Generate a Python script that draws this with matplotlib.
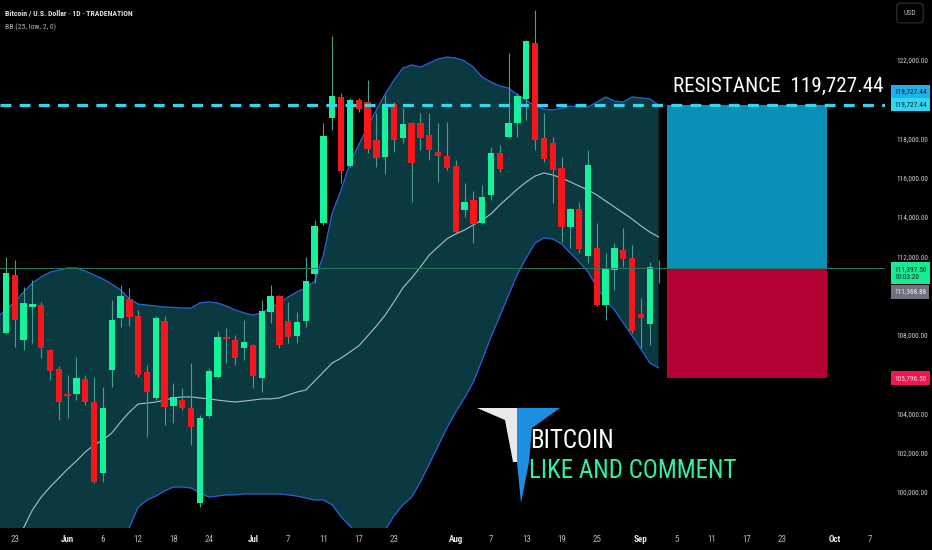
import numpy as np
import pandas as pd
import matplotlib
matplotlib.use("Agg")
import matplotlib.pyplot as plt
from matplotlib.patches import Rectangle, Polygon
from matplotlib.transforms import blended_transform_factory

NARROW = ["Roboto Condensed", "Liberation Sans Narrow", "Roboto", "DejaVu Sans"]

# daily candles (weekdays), first bar 2025-05-22
opens = [108100, 111060, 107750, 109430, 109530, 107240, 106270, 105000, 105000, 105760,
         104590, 100980, 106220, 108870, 109840, 108970, 106120, 104800, 108720, 104390,
         104690, 104290, 99450, 103880, 105870, 107900, 107750, 107340, 107490, 105810,
         109170, 109990, 108720, 107950, 108720, 111110, 113700, 119050, 120120, 116600,
         119960, 119860, 117930, 117060, 119760, 118030, 118790, 118790, 118180, 117320,
         117110, 116600, 114370, 114870, 113700, 115130, 117270, 118080, 118790, 120020,
         122870, 118030, 117780, 116500, 113500, 114420, 112020, 112430, 109530, 111310,
         112330, 111920, 109070, 108560, 111370]
highs = [111970, 111820, 110450, 110800, 109680, 107300, 106420, 105970, 106880, 105970,
         105870, 105360, 109780, 110550, 110400, 109270, 106480, 108970, 108970, 105560,
         105300, 106580, 103930, 106320, 108210, 108360, 108000, 108770, 107550, 109780,
         110550, 110040, 109680, 109170, 111970, 113860, 118790, 123220, 120320, 120070,
         120070, 120980, 119300, 120220, 119860, 119560, 118840, 119300, 119300, 118790,
         118840, 116910, 115740, 115330, 115640, 117570, 117670, 122360, 120320, 123020,
         124550, 119300, 118080, 117060, 114470, 114770, 117420, 113700, 112180, 112690,
         113450, 112580, 109890, 111720, 111820]
lows = [108050, 107390, 107240, 107600, 106830, 105710, 103680, 103780, 104690, 104440,
        100470, 100520, 105360, 108410, 108460, 105870, 102810, 104690, 103420, 103520,
        104180, 102400, 99250, 103780, 105810, 106580, 106480, 106730, 105300, 105100,
        108610, 107340, 107600, 107600, 108410, 110650, 113600, 118440, 115740, 116550,
        119350, 117270, 116550, 116200, 117320, 117780, 114770, 117420, 116910, 115790,
        116400, 113200, 114010, 112690, 113650, 114870, 116300, 118030, 118080, 118950,
        117420, 116810, 114720, 112740, 112430, 112180, 111670, 109480, 108770, 110290,
        111460, 108100, 107340, 107490, 110650]
closes = [111150, 108770, 109630, 109580, 107340, 106170, 104590, 104900, 105810, 104590,
          100520, 104290, 108770, 109990, 108920, 105970, 105100, 108870, 104340, 104850,
          104290, 103320, 103780, 106170, 107900, 107800, 106830, 107650, 105920, 109220,
          109990, 107490, 107900, 108660, 110750, 113550, 118130, 120170, 116350, 119960,
          119510, 117470, 117010, 119760, 117930, 118740, 116760, 118030, 117420, 117110,
          116500, 113250, 114770, 113650, 115030, 117270, 116450, 118790, 120170, 122970,
          117930, 116960, 116400, 113500, 114420, 112380, 116660, 109530, 111410, 112430,
          111870, 108210, 108870, 111460, 111400]

# Bollinger Bands (25, low, 2); first value is the bar before the first candle
bb_upper = [108900, 109270, 109680, 110180, 110640, 110950, 111200, 111300, 111410, 111410, 111250,
            111050, 110850, 110590, 110290, 109830, 109570, 109520, 109470, 109420, 109400,
            109370, 109370, 109630, 109680, 109630, 109470, 109270, 109120, 109010, 109120,
            109370, 109630, 109930, 110190, 110390, 110740, 112070, 114210, 115380, 116750,
            117670, 118590, 119450, 120270, 120980, 121590, 121750, 121640, 121850, 122050,
            122150, 122100, 121950, 121640, 121130, 120880, 120680, 120570, 120220, 119960,
            119660, 119500, 119450, 119550, 119660, 119610, 119610, 119860, 120120, 119910,
            119860, 120120, 120070, 120020, 119710]
bb_basis = [95300, 96280, 97250, 98170, 99080, 99740, 100250, 100710, 101170, 101580, 102040,
            102390, 102650, 103000, 103560, 104070, 104480, 104530, 104580, 104680, 104790,
            104840, 104840, 104790, 104740, 104680, 104630, 104580, 104630, 104680, 104740,
            104740, 104790, 104940, 105090, 105190, 105650, 106110, 106570, 106820, 107130,
            107440, 107940, 108450, 109010, 109680, 110390, 110900, 111460, 112070, 112480,
            112890, 113140, 113340, 113600, 113850, 114160, 114620, 115020, 115430, 115790,
            116090, 116250, 116140, 115990, 115790, 115580, 115380, 115125, 114820, 114510,
            114210, 113900, 113550, 113240, 112990]
bb_lower = [82000, 83300, 84800, 86200, 87500, 88500, 89300, 90100, 90900, 91750, 92800,
            93700, 94450, 95400, 96800, 98200, 99230, 99590, 99790, 100050, 100250,
            100250, 100200, 99950, 99740, 99790, 99850, 99850, 99900, 99900, 99900,
            99900, 99900, 99850, 99790, 99690, 99590, 99590, 99340, 98730, 98270,
            97810, 97660, 97760, 98060, 98780, 99340, 99740, 100510, 101420, 102340,
            103260, 104070, 104790, 105600, 106720, 107890, 108960, 110030, 111100, 111920,
            112680, 112940, 112890, 112630, 112170, 111710, 111200, 110440, 109780, 109270,
            108610, 107950, 107280, 106570, 106320]

resistance = 119727.44
last_price = 111397.50
prev_close = 111368.88
stop_price = 105796.50

tick_dates = ["2025-05-23", "2025-06-02", "2025-06-06", "2025-06-12", "2025-06-18", "2025-06-24",
              "2025-07-01", "2025-07-07", "2025-07-11", "2025-07-17", "2025-07-23", "2025-08-01",
              "2025-08-07", "2025-08-13", "2025-08-19", "2025-08-25", "2025-09-01", "2025-09-05",
              "2025-09-11", "2025-09-17", "2025-09-23", "2025-10-01", "2025-10-07"]
tick_text = ["23", "Jun", "6", "12", "18", "24", "Jul", "7", "11", "17", "23", "Aug",
             "7", "13", "19", "25", "Sep", "5", "11", "17", "23", "Oct", "7"]
month_names = {"Jun", "Jul", "Aug", "Sep", "Oct"}
# 106k, 110k and 120k sit under the price tags in the original
price_ticks = [100000, 102000, 104000, 108000, 112000, 114000, 116000, 118000, 122000]

UP = "#16f29c"
DOWN = "#f5171b"
WICK = "#4a9e8f"

dates = pd.bdate_range("2025-05-22", periods=100)
n = len(closes)
idx = np.arange(n)
bb_idx = np.arange(-1, n)

fig = plt.figure(figsize=(9.32, 5.5), dpi=100, facecolor="black")
ax = fig.add_axes([0, 22 / 550, 885 / 932, 528 / 550])
ax.set_facecolor("black")
ax.set_xlim(-0.67, 99.67)
ax.set_ylim(98165, 125056)
for s in ax.spines.values():
    s.set_visible(False)

# bollinger bands
ax.fill_between(bb_idx, bb_lower, bb_upper, color="#0b3940", lw=0, zorder=1)
ax.plot(bb_idx, bb_upper, color="#2a63d8", lw=0.9, zorder=2)
ax.plot(bb_idx, bb_lower, color="#2a63d8", lw=0.9, zorder=2)
ax.plot(bb_idx, bb_basis, color="#aebfc3", lw=0.8, zorder=2)

# candles
o = np.array(opens)
c = np.array(closes)
up = c >= o
ax.vlines(idx, lows, highs, color=WICK, lw=0.8, zorder=3)
body = np.maximum(np.abs(c - o), 60)
ax.bar(idx, body, bottom=np.minimum(o, c), width=0.72,
       color=np.where(up, UP, DOWN), lw=0, zorder=4)

# position tool box
ax.add_patch(Rectangle((75.0, last_price), 18.06, resistance - last_price,
                       fc="#0a8fb6", ec="none", zorder=3))
ax.add_patch(Rectangle((75.0, stop_price), 18.06, last_price - stop_price,
                       fc="#b40032", ec="none", zorder=3))

ax.axhline(resistance, color="#38d4ee", lw=2.3, dashes=(3.4, 2.6), zorder=6)
ax.axhline(last_price, color="#1f7a5e", lw=0.7, zorder=6)

# axes
ax.set_xticks([dates.get_loc(pd.Timestamp(d)) for d in tick_dates])
ax.set_xticklabels(tick_text)
ax.tick_params(axis="x", length=0, pad=5, labelsize=6.5, colors="#b2b5be")
for lab in ax.get_xticklabels():
    lab.set_family(NARROW)
    if lab.get_text() in month_names:
        lab.set_color("#e8e8e8")
        lab.set_fontweight("bold")

ax.yaxis.tick_right()
ax.set_yticks(price_ticks)
ax.set_yticklabels([f"{p:,.2f}" for p in price_ticks])
ax.tick_params(axis="y", length=0, pad=8, labelsize=5.3, colors="#c9cbd1")
for lab in ax.get_yticklabels():
    lab.set_family(NARROW)

# price tags
upp = (ax.get_ylim()[1] - ax.get_ylim()[0]) / 528
tr = blended_transform_factory(ax.transAxes, ax.transData)
tags = [
    (resistance + 13 * upp, f"{resistance:,.2f}", "#1fb0ee", "#0b1a24"),
    (resistance, f"{resistance:,.2f}", "#32d6f2", "#0b1a24"),
    (last_price - 5 * upp, f"{last_price:,.2f}\n10:03:20", "#19eb93", "#06261a"),
    (prev_close - 23 * upp, f"{prev_close:,.2f}", "#6f7380", "#f0f0f0"),
    (stop_price, f"{stop_price:,.2f}", "#ef1750", "#ffd6e0"),
]
for y, s, fc, tc in tags:
    ax.text(1.0 + 9 / 885, y, s, transform=tr, ha="left", va="center",
            fontsize=5.3, color=tc, family=NARROW, linespacing=1.15,
            bbox=dict(boxstyle="square,pad=0.45", fc=fc, ec="none"),
            clip_on=False, zorder=10)

# header
fig.text(5 / 932, 1 - 13 / 550, "Bitcoin / U.S. Dollar · 1D · TRADENATION",
         fontsize=5.6, color="#dfe1e6", weight="bold", va="center", family=NARROW)
fig.text(5 / 932, 1 - 27 / 550, "BB (25, low, 2, 0)",
         fontsize=5.6, color="#b2b5be", va="center", family=NARROW)
fig.text(910 / 932, 1 - 13 / 550, "USD", fontsize=5.5, color="#b2b5be",
         ha="center", va="center", family=NARROW,
         bbox=dict(boxstyle="round,pad=0.9,rounding_size=0.5", fc="black", ec="#2f323c", lw=0.8))

# resistance label
fig.text(673 / 932, 1 - 92 / 550, "RESISTANCE  119,727.44", fontsize=15.2,
         color="white", va="baseline", ha="left", family=NARROW)

# logo
def px(x, y):
    return (x / 932, 1 - y / 550)

white = [px(477, 408), px(517, 408), px(517, 462), px(513, 462), px(505, 420)]
blue = [px(517, 408), px(560, 408), px(532, 428), px(529, 462), px(521, 503), px(517, 462)]
fig.patches.append(Polygon(white, closed=True, fc="#e9e9e9", ec="none", transform=fig.transFigure))
fig.patches.append(Polygon(blue, closed=True, fc="#1e8fe0", ec="none", transform=fig.transFigure))
fig.text(530 / 932, 1 - 448 / 550, "BITCOIN", fontsize=18, color="white",
         va="baseline", ha="left", family=NARROW)
fig.text(529 / 932, 1 - 478 / 550, "LIKE AND COMMENT", fontsize=18, color="#2ef2a0",
         va="baseline", ha="left", family=NARROW)

fig.savefig("out.png", dpi=100, facecolor="black")
